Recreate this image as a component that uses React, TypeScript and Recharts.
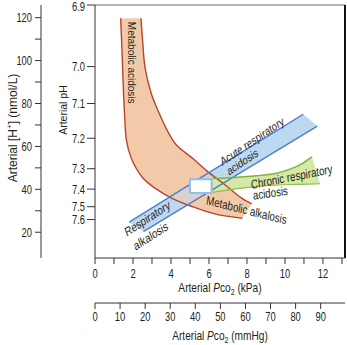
import React from 'react';
import { ComposedChart, XAxis, YAxis, Scatter, ReferenceLine } from 'recharts';

// Pco2 in kPa on x, [H+] in nmol/L on y (pH axis is labelled at matching [H+])
const kpaTicks = [0, 1, 2, 3, 4, 5, 6, 7, 8, 9, 10, 11, 12, 13];
const mmHgTicks = [0, 10, 20, 30, 40, 50, 60, 70, 80, 90];
const hTicks = [20, 30, 40, 50, 60, 70, 80, 90, 100, 110, 120];
const phLabels = ['6.9', '7.0', '7.1', '7.2', '7.3', '7.4', '7.5', '7.6'];
const phTickHPlus = [125.9, 97.2, 80, 63.8, 49.6, 40.1, 31.9, 25.9];

// metabolic acidosis band, both edges top -> bottom
const acidosisLeft = [
  [1.35, 119.7], [1.42, 105], [1.48, 90], [1.55, 76], [1.65, 63], [1.93, 54],
  [2.5, 45.5], [3.2, 40.3], [4.0, 36], [5.1, 32], [6.4, 28.3], [7.75, 26.5],
];
const acidosisRight = [
  [2.42, 119.7], [2.5, 110], [2.63, 97], [2.95, 85], [3.35, 76], [3.8, 67.5],
  [4.3, 60.5], [5.2, 54], [5.9, 48.5], [6.85, 42], [7.7, 36], [8.25, 33.2],
];

// acute respiratory band
const acuteUpper = [[1.8, 24.7], [10.96, 75]];
const acuteLower = [[2.55, 20.3], [11.7, 69.5]];

// chronic respiratory acidosis band
const chronicUpper = [
  [6.17, 45], [7.3, 45.5], [8.5, 46.3], [9.5, 47.4], [10.3, 49.5], [10.9, 52], [11.42, 55.2],
];
const chronicLower = [[6.17, 38.6], [7.5, 40.3], [8.86, 41.6], [10.5, 42.3], [11.85, 42.6]];

// normal range box
const normalBox = [[5.0, 44.7], [6.14, 44.7], [6.14, 38.3], [5.0, 38.3]];

const notes = [
  { text: 'Metabolic acidosis', x: 1.9, y: 99, angle: 90, size: 10 },
  { text: 'Acute respiratory', x: 8.26, y: 62.5, angle: -34, size: 12 },
  { text: 'acidosis', x: 7.75, y: 52.9, angle: -34, size: 12 },
  { text: 'Respiratory', x: 2.75, y: 26.5, angle: -33, size: 12.5 },
  { text: 'alkalosis', x: 2.93, y: 18.3, angle: -33, size: 12.5 },
  { text: 'Chronic respiratory', x: 10.35, y: 45.9, angle: -11, size: 12.5 },
  { text: 'acidosis', x: 9.23, y: 38.4, angle: -8, size: 12.5 },
  { text: 'Metabolic alkalosis', x: 7.98, y: 30.4, angle: 14, size: 12.5 },
];

const X_MAX = 13.16;
const H_MIN = 8;
const H_MAX = 125.9;

const SANS = "'Liberation Sans', Arial, sans-serif";
const INK = '#231f20';
// the source art is narrower than a plain sans
const TICK_SQ = 0.75;
const TITLE_SQ = 0.78;
const NOTE_SQ = 0.78;

const toPts = (arr: number[][]) => arr.map(([x, y]) => ({ x, y }));

type Pt = { x: number; y: number };

function smooth(pts: Pt[], start: 'M' | 'L') {
  if (!pts.length) return '';
  let d = `${start}${pts[0].x},${pts[0].y}`;
  for (let i = 0; i < pts.length - 1; i++) {
    const p0 = pts[i - 1] || pts[i];
    const p1 = pts[i];
    const p2 = pts[i + 1];
    const p3 = pts[i + 2] || p2;
    const c1x = p1.x + (p2.x - p0.x) / 6;
    const c1y = p1.y + (p2.y - p0.y) / 6;
    const c2x = p2.x - (p3.x - p1.x) / 6;
    const c2y = p2.y - (p3.y - p1.y) / 6;
    d += ` C${c1x},${c1y} ${c2x},${c2y} ${p2.x},${p2.y}`;
  }
  return d;
}

// filled band: first `split` points are one edge, rest is the other edge reversed
const bandFill = (split: number, fill: string, opacity = 1) => (props: any) => {
  const pts: Pt[] = props.points || [];
  const d = smooth(pts.slice(0, split), 'M') + ' ' + smooth(pts.slice(split), 'L') + ' Z';
  return <path d={d} fill={fill} fillOpacity={opacity} stroke="none" />;
};

const edgeLine = (stroke: string, width = 1.4) => (props: any) => {
  const pts: Pt[] = props.points || [];
  return <path d={smooth(pts, 'M')} fill="none" stroke={stroke} strokeWidth={width} />;
};

const boxShape = (props: any) => {
  const pts: Pt[] = props.points || [];
  return (
    <polygon
      points={pts.map((p) => `${p.x},${p.y}`).join(' ')}
      fill="#ffffff"
      stroke="#8dc0ea"
      strokeWidth={2}
    />
  );
};

const noDot = () => <g />;

const noteShape = (p: any) => {
  const { angle, size, text } = p.payload;
  const vertical = Math.abs(angle) === 90;
  // text is set unsqueezed, then the whole label is narrowed like the source art
  const sq = vertical ? 1 : NOTE_SQ;
  const a = vertical ? angle : (Math.atan(sq * Math.tan((angle * Math.PI) / 180)) * 180) / Math.PI;
  return (
    <g transform={`translate(${p.cx},${p.cy}) scale(${sq},1) rotate(${a})`}>
      <text
        x={0}
        y={0}
        textAnchor="middle"
        dominantBaseline="central"
        fontFamily={SANS}
        fontSize={size}
        fill={INK}
      >
        {text}
      </text>
    </g>
  );
};

const BottomTick = (fmt: (v: number) => string) => (props: any) => {
  const { x, y, payload } = props;
  return (
    <g transform={`translate(${x},${y}) scale(${TICK_SQ},1)`}>
      <text x={0} y={0} dy="0.71em" textAnchor="middle" fontFamily={SANS} fontSize={12.5} fill={INK}>
        {fmt(payload.value)}
      </text>
    </g>
  );
};

const LeftTick = (fmt: (v: number) => string) => (props: any) => {
  const { x, payload } = props;
  const y = Math.max(props.y, 7);
  return (
    <g transform={`translate(${x},${y}) scale(${TICK_SQ},1)`}>
      <text x={0} y={0} dy="0.355em" textAnchor="end" fontFamily={SANS} fontSize={12.5} fill={INK}>
        {fmt(payload.value)}
      </text>
    </g>
  );
};

const PcoTitle = (unit: string, dyBase: number) => (props: any) => {
  const vb = props.viewBox || { x: 0, y: 0, width: 0, height: 0 };
  const cx = vb.x + vb.width / 2;
  const cy = vb.y + dyBase;
  return (
    <g transform={`translate(${cx},${cy}) scale(${TITLE_SQ},1)`}>
      <text x={0} y={0} textAnchor="middle" fontFamily={SANS} fontSize={13} fill={INK}>
        Arterial <tspan fontStyle="italic">P</tspan>co
        <tspan dy={3} fontSize={9}>2</tspan>
        <tspan dy={-3}> ({unit})</tspan>
      </text>
    </g>
  );
};

const HTitle = (props: any) => {
  const vb = props.viewBox || { x: 0, y: 0, width: 0, height: 0 };
  const cx = vb.x + 13;
  const cy = 128;
  return (
    <text
      x={cx}
      y={cy}
      transform={`rotate(-90 ${cx} ${cy})`}
      textAnchor="middle"
      dominantBaseline="central"
      fontFamily={SANS}
      fontSize={12}
      fill={INK}
    >
      Arterial [H<tspan dy={-4} fontSize={8}>+</tspan>
      <tspan dy={4}>] (nmol/L)</tspan>
    </text>
  );
};

const PhTitle = (props: any) => {
  const vb = props.viewBox || { x: 0, y: 0, width: 0, height: 0 };
  const cx = vb.x + 22;
  const cy = 110;
  return (
    <text
      x={cx}
      y={cy}
      transform={`rotate(-90 ${cx} ${cy})`}
      textAnchor="middle"
      dominantBaseline="central"
      fontFamily={SANS}
      fontSize={10.5}
      fill={INK}
    >
      Arterial pH
    </text>
  );
};

const axisLine = { stroke: '#333', strokeWidth: 1 };

export default function App() {
  const acidosisBand = toPts([...acidosisLeft, ...[...acidosisRight].reverse()]);
  const acuteBand = toPts([...acuteUpper, ...[...acuteLower].reverse()]);
  const chronicBand = toPts([...chronicUpper, ...[...chronicLower].reverse()]);

  const kpaFmt = (v: number) => (v % 2 === 0 ? String(v) : '');
  const mmFmt = (v: number) => String(v);
  const phFmt = (v: number) => phLabels[phTickHPlus.indexOf(v)] ?? '';
  const hFmt = (v: number) => (v % 20 === 0 ? String(v) : '');

  return (
    <div style={{ position: 'absolute', left: 0, top: 0, background: '#fff' }}>
      <ComposedChart width={347} height={345} margin={{ top: 5, right: 2, bottom: 0, left: 0 }}>
        <XAxis
          xAxisId="a_kpa"
          dataKey="x"
          type="number"
          domain={[0, X_MAX]}
          allowDataOverflow
          ticks={kpaTicks}
          interval={0}
          height={45}
          tickSize={6}
          tickMargin={5}
          tick={BottomTick(kpaFmt)}
          axisLine={axisLine}
          tickLine={axisLine}
          label={{ content: PcoTitle('kPa', 34) }}
        />
        <XAxis
          xAxisId="b_mm"
          dataKey="x"
          type="number"
          domain={[0, 99.7]}
          allowDataOverflow
          ticks={mmHgTicks}
          interval={0}
          height={42}
          tickSize={6}
          tickMargin={3}
          tick={BottomTick(mmFmt)}
          axisLine={axisLine}
          tickLine={axisLine}
          label={{ content: PcoTitle('mmHg', 37) }}
        />
        <YAxis
          yAxisId="a_ph"
          dataKey="y"
          type="number"
          domain={[H_MIN, H_MAX]}
          allowDataOverflow
          ticks={phTickHPlus}
          interval={0}
          width={54}
          tickSize={8}
          tickMargin={2}
          tick={LeftTick(phFmt)}
          axisLine={axisLine}
          tickLine={axisLine}
          label={{ content: PhTitle }}
        />
        <YAxis
          yAxisId="b_h"
          dataKey="y"
          type="number"
          domain={[H_MIN, H_MAX]}
          allowDataOverflow
          ticks={hTicks}
          interval={0}
          width={41}
          tickSize={6}
          tickMargin={3}
          tick={LeftTick(hFmt)}
          axisLine={axisLine}
          tickLine={axisLine}
          label={{ content: HTitle }}
        />

        <ReferenceLine xAxisId="a_kpa" yAxisId="a_ph" y={H_MAX} stroke="#666" strokeWidth={1} />
        <ReferenceLine xAxisId="a_kpa" yAxisId="a_ph" x={X_MAX} stroke="#111" strokeWidth={2} />

        {/* fills */}
        <Scatter xAxisId="a_kpa" yAxisId="a_ph" data={acuteBand} shape={noDot}
          line={bandFill(acuteUpper.length, '#bdd8f1')} isAnimationActive={false} />
        <Scatter xAxisId="a_kpa" yAxisId="a_ph" data={acidosisBand} shape={noDot}
          line={bandFill(acidosisLeft.length, '#f3caa9')} isAnimationActive={false} />
        <Scatter xAxisId="a_kpa" yAxisId="a_ph" data={acuteBand} shape={noDot}
          line={bandFill(acuteUpper.length, '#bdd8f1', 0.5)} isAnimationActive={false} />
        <Scatter xAxisId="a_kpa" yAxisId="a_ph" data={chronicBand} shape={noDot}
          line={bandFill(chronicUpper.length, '#d5e8a6')} isAnimationActive={false} />

        {/* edges */}
        <Scatter xAxisId="a_kpa" yAxisId="a_ph" data={toPts(acidosisLeft)} shape={noDot}
          line={edgeLine('#b8452c')} isAnimationActive={false} />
        <Scatter xAxisId="a_kpa" yAxisId="a_ph" data={toPts(acidosisRight)} shape={noDot}
          line={edgeLine('#b8452c')} isAnimationActive={false} />
        <Scatter xAxisId="a_kpa" yAxisId="a_ph" data={toPts(acuteUpper)} shape={noDot}
          line={edgeLine('#4b7fcb')} isAnimationActive={false} />
        <Scatter xAxisId="a_kpa" yAxisId="a_ph" data={toPts(acuteLower)} shape={noDot}
          line={edgeLine('#4b7fcb')} isAnimationActive={false} />
        <Scatter xAxisId="a_kpa" yAxisId="a_ph" data={toPts(chronicUpper)} shape={noDot}
          line={edgeLine('#7ab243')} isAnimationActive={false} />
        <Scatter xAxisId="a_kpa" yAxisId="a_ph" data={toPts(chronicLower)} shape={noDot}
          line={edgeLine('#8cc04f', 1.2)} isAnimationActive={false} />

        <Scatter xAxisId="a_kpa" yAxisId="a_ph" data={toPts(normalBox)} shape={noDot}
          line={boxShape} isAnimationActive={false} />

        <Scatter xAxisId="a_kpa" yAxisId="a_ph" data={notes} shape={noteShape} isAnimationActive={false} />
      </ComposedChart>
    </div>
  );
}
